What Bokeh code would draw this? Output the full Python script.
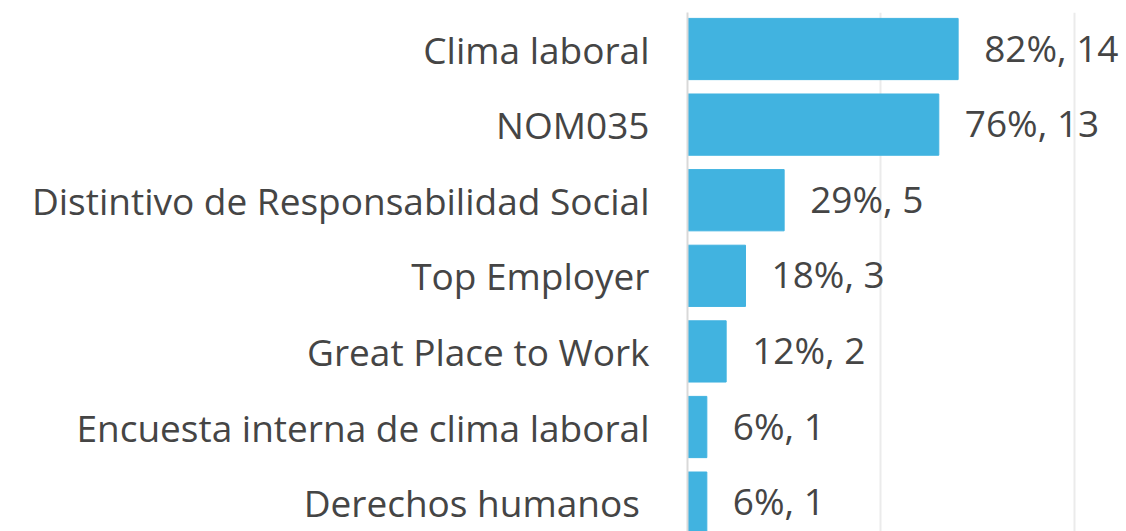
from bokeh.plotting import figure
from bokeh.models import Range1d, FixedTicker, ColumnDataSource
from bokeh.core.properties import value
from bokeh.embed import file_html
from bokeh.resources import INLINE

categories = ["Clima laboral", "NOM035", "Distintivo de Responsabilidad Social",
              "Top Employer", "Great Place to Work",
              "Encuesta interna de clima laboral", "Derechos humanos "]
percents = [82, 76, 29, 18, 12, 6, 6]
counts = [14, 13, 5, 3, 2, 1, 1]

idx = list(range(len(categories)))
labels = [f"{p}%, {c}" for p, c in zip(percents, counts)]
src = ColumnDataSource(dict(y=idx, n=counts, lab=labels))

p = figure(frame_width=439, frame_height=519, output_backend="svg",
           toolbar_location=None, x_range=Range1d(0, 22.71),
           y_range=Range1d(6.382, -0.483),
           min_border_left=687, min_border_top=12, min_border_right=0,
           min_border_bottom=0)
p.outline_line_color = None
p.background_fill_color = "white"
p.border_fill_color = "white"

p.hbar(y="y", right="n", left=0, height=0.81, source=src,
       fill_color="#41B3E0", line_color="#41B3E0", line_width=1)
p.text(x="n", y="y", text="lab", source=src, x_offset=26, y_offset=-2,
       text_font=value("Open Sans"), text_font_size="37px",
       text_color="#454545", text_baseline="middle", text_align="left")

p.xaxis.visible = False
p.xgrid.ticker = FixedTicker(ticks=[10, 20])
p.xgrid.grid_line_color = "#ebebeb"
p.xgrid.grid_line_width = 2
p.ygrid.grid_line_color = None

ya = p.yaxis[0]
ya.ticker = FixedTicker(ticks=idx)
ya.major_label_overrides = {i: c for i, c in zip(idx, categories)}
ya.major_tick_line_color = None
ya.minor_tick_line_color = None
ya.axis_line_color = "#d9d9d9"
ya.axis_line_width = 2
ya.major_label_standoff = 32
ya.major_label_text_font = "Open Sans"
ya.major_label_text_font_size = "37px"
ya.major_label_text_color = "#454545"

open("out.html", "w").write(file_html(p, INLINE))
